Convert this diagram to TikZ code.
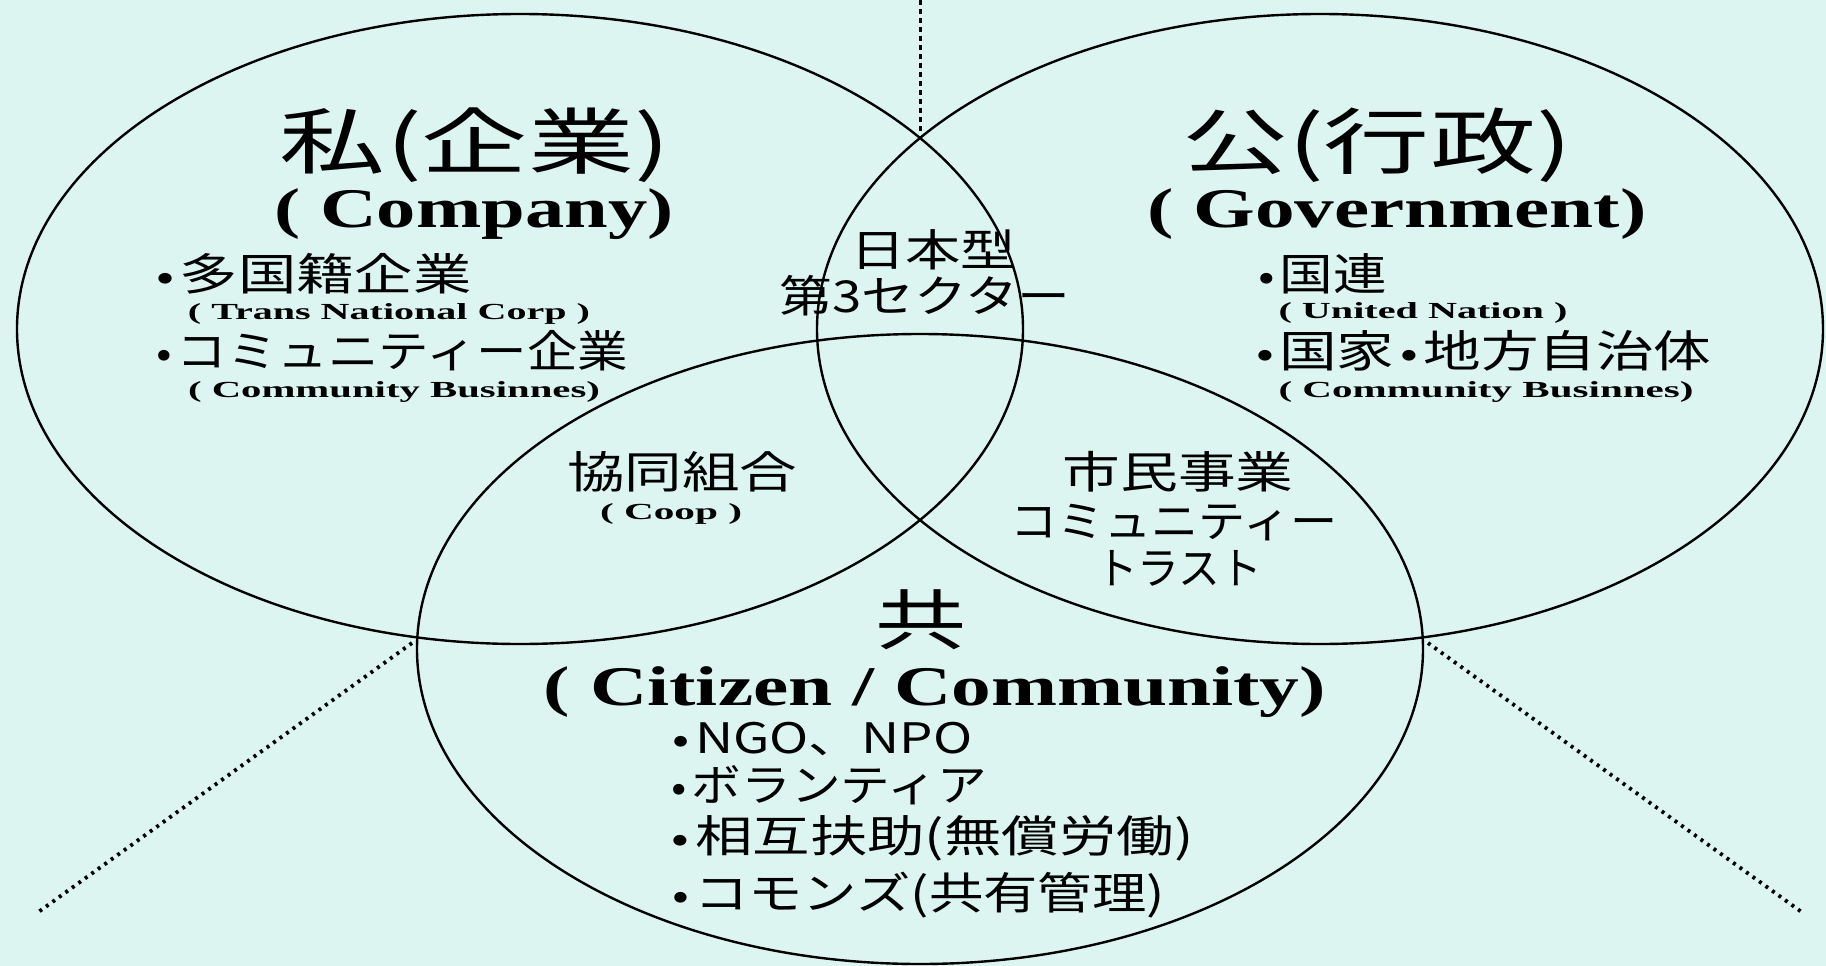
\documentclass[tikz,border=0pt]{standalone}
\usepackage{fontspec}
\setmainfont{Liberation Serif}
\newfontfamily\jpf{Noto Sans CJK JP}
\usetikzlibrary{shapes.geometric}
\definecolor{bgmint}{RGB}{221,245,240}
\newcommand\fitline[3]{\resizebox{#1pt}{\height}{\fontsize{#2}{#2}\selectfont #3}}
\newcommand\bul{\makebox[22pt][c]{\fontsize{40}{40}\selectfont •}}
\tikzset{
  venn/.style={draw, ellipse, line width=2.4pt, minimum width=1006pt, minimum height=630pt, inner sep=0pt},
  jp/.style={inner sep=0pt, font=\jpf},
  en/.style={inner sep=0pt, anchor=base, font=\bfseries},
  vdots/.style={line width=3pt, dash pattern=on 5pt off 4pt},
  ddots/.style={line width=3.8pt, dash pattern=on 3pt off 5pt}
}
\begin{document}
\begin{tikzpicture}[x=1pt, y=-1pt]
\fill[bgmint] (0,0) rectangle (1826,966);
\useasboundingbox (0,0) rectangle (1826,966);
% circles
\node[venn] (priv) at (520,329) {};
\node[venn] (pub) at (1320,329) {};
\node[venn] (comm) at (920,649) {};
% dotted lines
\coordinate (topEnd) at (920,0);
\coordinate (topX) at (920,134);
\coordinate (blX) at (412,643);
\coordinate (blEnd) at (37,913);
\coordinate (brX) at (1428,643);
\coordinate (brEnd) at (1803,913);
\draw[vdots] (topEnd) -- (topX);
\draw[ddots] (blX) -- (blEnd);
\draw[ddots] (brX) -- (brEnd);
% left circle text
\node[jp] (a1) at (475,145) {\fitline{390}{72}{私(企業)}};
\node[en] (a2) at (474,227) {\fitline{399}{56}{( Company)}};
\node[jp] (a3) at (311,274) {\fitline{321}{44}{\bul 多国籍企業}};
\node[en] (a4) at (389,319) {\fitline{402}{23}{( Trans National Corp )}};
\node[jp] (a5) at (390,351) {\fitline{477}{44}{\bul コミュニティー企業}};
\node[en] (a6) at (394,397) {\fitline{412}{23}{( Community Businnes)}};
% center
\node[jp] (c1) at (933,250) {\fitline{166}{44}{日本型}};
\node[jp] (c2) at (925,296) {\fitline{291}{44}{第3セクター}};
% right circle text
\node[jp] (b1) at (1377,145) {\fitline{390}{72}{公(行政)}};
\node[en] (b2) at (1397,227) {\fitline{499}{56}{( Government)}};
\node[jp] (b3) at (1320,274) {\fitline{134}{44}{\bul 国連}};
\node[en] (b4) at (1423,318) {\fitline{289}{23}{( United Nation )}};
\node[jp] (b5) at (1481,351) {\fitline{461}{44}{\bul 国家\bul 地方自治体}};
\node[en] (b6) at (1486,397) {\fitline{415}{23}{( Community Businnes)}};
% intersections
\node[jp] (d1) at (682,472) {\fitline{230}{44}{協同組合}};
\node[en] (d2) at (671,519) {\fitline{142}{23}{( Coop )}};
\node[jp] (e1) at (1178,472) {\fitline{231}{44}{市民事業}};
\node[jp] (e2) at (1174,523) {\fitline{327}{44}{コミュニティー}};
\node[jp] (e3) at (1179,568) {\fitline{166}{44}{トラスト}};
% bottom circle text
\node[jp] (f1) at (921,620) {\fitline{91}{66}{共}};
\node[en] (f2) at (935,705) {\fitline{782}{56}{( Citizen / Community)}};
\node[jp] (f3) at (820,739) {\fitline{305}{42}{\bul NGO、NPO}};
\node[jp] (f4) at (827,785) {\fitline{320}{44}{\bul ボランティア}};
\node[jp] (f5) at (930,838) {\fitline{527}{44}{\bul 相互扶助(無償労働)}};
\node[jp] (f6) at (916,895) {\fitline{498}{44}{\bul コモンズ(共有管理)}};
\end{tikzpicture}
\end{document}
